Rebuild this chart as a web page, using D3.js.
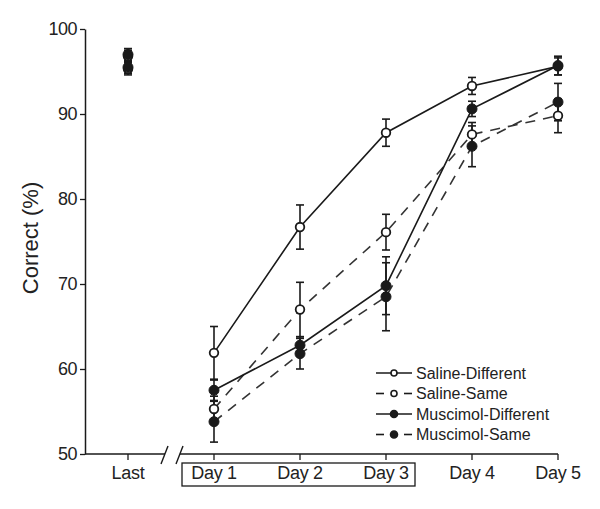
<!DOCTYPE html>
<html>
<head>
<meta charset="utf-8">
<script src="https://cdn.jsdelivr.net/npm/d3@7"></script>
<style>
  body { margin: 0; background: #fff; }
  text { font-family: "Liberation Sans", Arial, sans-serif; fill: #222; }
</style>
</head>
<body>
<div id="viz-container"></div>
<script>
// dados
const categories = ['Last', 'Day 1', 'Day 2', 'Day 3', 'Day 4', 'Day 5'];
const yTicks = [50, 60, 70, 80, 90, 100];

const salineDiff = [96.8, 61.9, 76.7, 87.8, 93.3, 95.6];
const salineDiffErr = [0.7, 3.1, 2.6, 1.6, 1.0, 1.0];
const salineSame = [95.3, 55.3, 67.0, 76.1, 87.6, 89.8];
const salineSameErr = [0.7, 1.5, 3.2, 2.1, 1.4, 2.0];
const muscDiff = [97.0, 57.5, 62.8, 69.8, 90.6, 95.7];
const muscDiffErr = [0.7, 1.2, 1.0, 3.4, 0.9, 1.1];
const muscSame = [95.5, 53.8, 61.8, 68.5, 86.2, 91.4];
const muscSameErr = [0.7, 2.4, 1.8, 4.0, 2.4, 2.2];

const series = [
  { name: 'Saline-Different', values: salineDiff, err: salineDiffErr, open: true, dashed: false },
  { name: 'Saline-Same', values: salineSame, err: salineSameErr, open: true, dashed: true },
  { name: 'Muscimol-Different', values: muscDiff, err: muscDiffErr, open: false, dashed: false },
  { name: 'Muscimol-Same', values: muscSame, err: muscSameErr, open: false, dashed: true }
];

const W = 600, H = 509;
const ink = '#1a1a1a';

const svg = d3.select('#viz-container').append('svg')
  .attr('width', W).attr('height', H);

const x = d3.scaleLinear().domain([0, 5]).range([128, 558]);
const y = d3.scaleLinear().domain([50, 100]).range([454, 29]);
const axisX0 = 85;

// --- Eixo Y ---
const yAxis = svg.append('g')
  .attr('transform', `translate(${axisX0},0)`)
  .call(d3.axisLeft(y).tickValues(yTicks).tickSize(5).tickPadding(3).tickSizeOuter(0));
yAxis.select('.domain').attr('stroke', ink).attr('stroke-width', 1.5);
yAxis.selectAll('.tick line').attr('stroke', ink).attr('stroke-width', 1.3);
yAxis.selectAll('.tick text').style('font-size', '18px').attr('fill', '#333')
  .style('letter-spacing', '-0.5px');

svg.append('text')
  .attr('transform', 'translate(38,238) rotate(-90)')
  .attr('text-anchor', 'middle')
  .style('font-size', '22px')
  .attr('fill', '#333')
  .text('Correct (%)');

// --- Eixo X com quebra ---
const axisY = y(50);
const breakL = 165, breakR = 180;
svg.append('line').attr('x1', axisX0).attr('x2', breakL)
  .attr('y1', axisY).attr('y2', axisY).attr('stroke', ink).attr('stroke-width', 1.5);
svg.append('line').attr('x1', breakR).attr('x2', x(5))
  .attr('y1', axisY).attr('y2', axisY).attr('stroke', ink).attr('stroke-width', 1.5);
[breakL, breakR].forEach(bx => {
  svg.append('line')
    .attr('x1', bx - 4).attr('y1', axisY + 10)
    .attr('x2', bx + 3).attr('y2', axisY - 8)
    .attr('stroke', ink).attr('stroke-width', 1.4);
});

categories.forEach((c, i) => {
  svg.append('line').attr('x1', x(i)).attr('x2', x(i))
    .attr('y1', axisY).attr('y2', axisY + 6).attr('stroke', ink).attr('stroke-width', 1.3);
  svg.append('text')
    .attr('x', x(i)).attr('y', 479)
    .attr('text-anchor', 'middle')
    .style('font-size', '18px')
    .style('letter-spacing', '-0.3px')
    .attr('fill', '#333')
    .text(c);
});

// caixa em volta de Day 1 - Day 3
svg.append('rect')
  .attr('x', 182).attr('y', 463).attr('width', 233).attr('height', 23)
  .attr('fill', 'none').attr('stroke', ink).attr('stroke-width', 1.3);

// --- Linhas (Day 1 a Day 5) ---
const line = d3.line()
  .x(d => x(d.i))
  .y(d => y(d.v));

const plot = svg.append('g');
const drawOrder = [series[1], series[0], series[3], series[2]];

drawOrder.forEach(s => {
  const pts = s.values.map((v, i) => ({ i, v })).filter(d => d.i > 0);
  plot.append('path')
    .attr('d', line(pts))
    .attr('fill', 'none')
    .attr('stroke', s.dashed ? '#333' : ink)
    .attr('stroke-width', 1.6)
    .attr('stroke-dasharray', s.dashed ? '10,8' : null);
});

// --- Barras de erro ---
drawOrder.forEach(s => {
  const g = plot.append('g');
  s.values.forEach((v, i) => {
    const e = s.err[i];
    const cx = x(i);
    g.append('line').attr('x1', cx).attr('x2', cx)
      .attr('y1', y(v - e)).attr('y2', y(v + e))
      .attr('stroke', ink).attr('stroke-width', 1.6);
    [v - e, v + e].forEach(t => {
      g.append('line').attr('x1', cx - 4).attr('x2', cx + 4)
        .attr('y1', y(t)).attr('y2', y(t))
        .attr('stroke', ink).attr('stroke-width', 1.6);
    });
  });
});

// --- Marcadores ---
drawOrder.forEach(s => {
  plot.selectAll(null)
    .data(s.values.map((v, i) => ({ i, v })))
    .enter().append('circle')
    .attr('cx', d => x(d.i))
    .attr('cy', d => y(d.v))
    .attr('r', s.open ? 4.3 : 5)
    .attr('fill', s.open ? '#fff' : ink)
    .attr('stroke', ink)
    .attr('stroke-width', s.open ? 1.8 : 1);
});

// --- Legenda ---
const legend = svg.append('g');
series.forEach((s, k) => {
  const ly = 373 + k * 20.5;
  if (s.dashed) {
    legend.append('line').attr('x1', 376).attr('x2', 384).attr('y1', ly).attr('y2', ly)
      .attr('stroke', ink).attr('stroke-width', 1.6);
    legend.append('line').attr('x1', 404).attr('x2', 412).attr('y1', ly).attr('y2', ly)
      .attr('stroke', ink).attr('stroke-width', 1.6);
  } else {
    legend.append('line').attr('x1', 376).attr('x2', 412).attr('y1', ly).attr('y2', ly)
      .attr('stroke', ink).attr('stroke-width', 1.6);
  }
  legend.append('circle')
    .attr('cx', 394).attr('cy', ly)
    .attr('r', s.open ? 3 : 3.5)
    .attr('fill', s.open ? '#fff' : ink)
    .attr('stroke', ink).attr('stroke-width', 1.6);
  legend.append('text')
    .attr('x', 416).attr('y', ly + 5.5)
    .style('font-size', '16px')
    .attr('fill', '#333')
    .text(s.name);
});
</script>
</body>
</html>
